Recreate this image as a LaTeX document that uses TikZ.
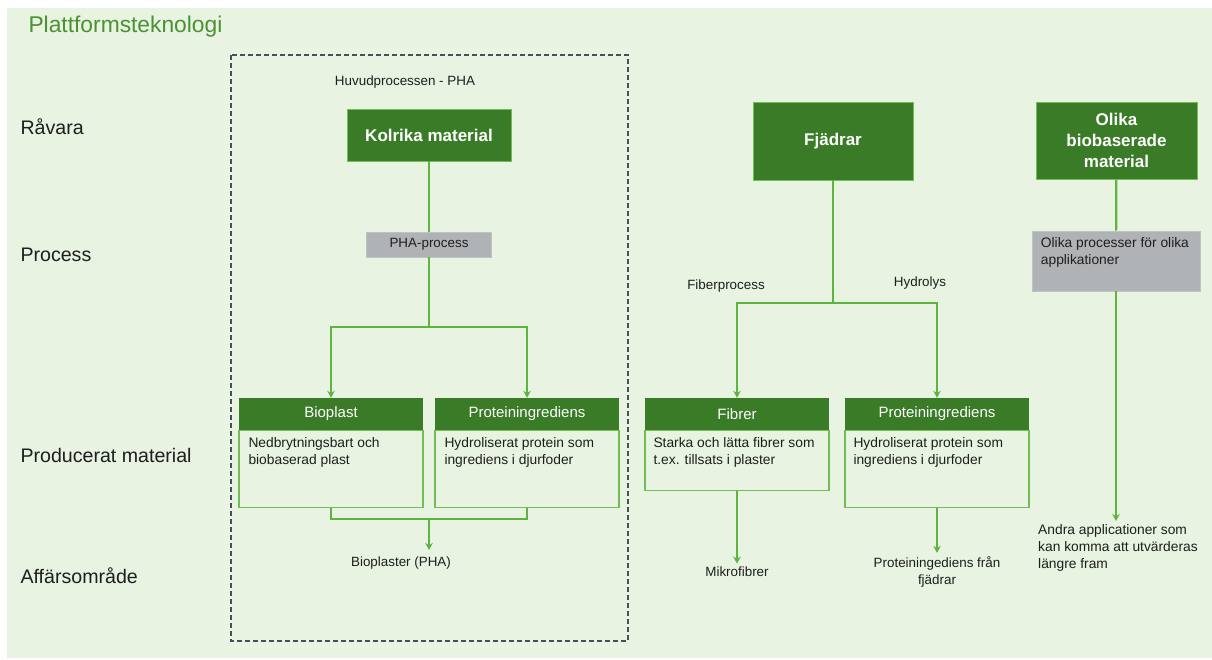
\documentclass[tikz,border=0pt]{standalone}
\usepackage{fontspec}
\setmainfont{Liberation Sans}
\usepackage{xcolor}
\usetikzlibrary{arrows.meta, positioning}

\definecolor{bggreen}{HTML}{E8F3E1}
\definecolor{darkgreen}{HTML}{3A7B27}
\definecolor{linegreen}{HTML}{5DB43F}
\definecolor{edgegreen}{HTML}{72BE55}
\definecolor{titlegreen}{HTML}{4A9232}
\definecolor{procgrey}{HTML}{B0B3B6}
\definecolor{framegrey}{HTML}{45515A}
\definecolor{textdark}{HTML}{1E1E1E}

\begin{document}
\begin{tikzpicture}[x=1pt, y=-1pt,
        rowlabel/.style={anchor=west, text=textdark, font=\fontsize{19.6}{22}\selectfont},
        rawbox/.style={rectangle, fill=darkgreen, draw=edgegreen, line width=0.6pt, text=white, align=center, font=\bfseries\fontsize{17}{21}\selectfont},
        greybox/.style={rectangle, fill=procgrey, draw=procgrey!80!white, line width=0.6pt},
        head/.style={rectangle, fill=darkgreen, text=white, minimum width=184pt, minimum height=32pt, inner sep=0pt, font=\fontsize{15}{17}\selectfont},
        body/.style={rectangle, draw=edgegreen, line width=1.4pt, minimum width=184pt, anchor=north, inner sep=0pt},
        bodytext/.style={anchor=north west, align=left, text=textdark, inner sep=3pt, font=\fontsize{13.8}{17}\selectfont},
        small/.style={text=textdark, align=center, font=\fontsize{13.4}{17.5}\selectfont},
        conn/.style={draw=linegreen, line width=2.2pt},
        arrow/.style={conn, -{Stealth[length=7pt, width=7.5pt]}}
    ]
    \useasboundingbox (0,0) rectangle (1212,659);
    \fill[bggreen] (7,8) rectangle (1212,658);

    % title and row labels
    \node[anchor=west, text=titlegreen, font=\fontsize{22.8}{26}\selectfont] (title) at (25,27) {Plattformsteknologi};
    \node[rowlabel] (rRaw) at (17,127) {Råvara};
    \node[rowlabel] (rProc) at (17,255) {Process};
    \node[rowlabel] (rProd) at (17,455) {Producerat material};
    \node[rowlabel] (rArea) at (17,576) {Affärsområde};

    % main process PHA
    \draw[framegrey, line width=1.2pt, dash pattern=on 5pt off 3pt] (231,55) rectangle (628,641);
    \node[small] (huvud) at (405,82) {Huvudprocessen - PHA};
    \node[rawbox, minimum width=164pt, minimum height=52pt] (kol) at (429,135) {Kolrika material};
    \node[greybox, minimum width=125pt, minimum height=25pt, small] (pha) at (429,244.5) {PHA-process};
    \coordinate (phaSplit) at (429,327);

    \node[body, minimum height=77pt] (bioB) at (331,430) {};
    \node[head] (bioH) at (331,414) {Bioplast};
    \node[bodytext] (bioT) at ([xshift=7pt, yshift=-4pt]bioB.north west) {Nedbrytningsbart och\\biobaserad plast};
    \node[body, minimum height=77pt] (proB) at (527,430) {};
    \node[head] (proH) at (527,414) {Proteiningrediens};
    \node[bodytext] (proT) at ([xshift=7pt, yshift=-4pt]proB.north west) {Hydroliserat protein som\\ingrediens i djurfoder};
    \coordinate (bioJoin) at (429,519);
    \coordinate (bioEnd) at (429,550);
    \node[small] (bioplaster) at (401,563) {Bioplaster (PHA)};

    \draw[conn] (kol) -- (pha);
    \draw[conn] (pha) -- (phaSplit);
    \draw[arrow] (phaSplit) -| (bioH);
    \draw[arrow] (phaSplit) -| (proH);
    \draw[conn] (bioB.south) |- (bioJoin) -| (proB.south);
    \draw[arrow] (bioJoin) -- (bioEnd);

    % feathers
    \node[rawbox, minimum width=160pt, minimum height=78pt] (fj) at (833,141) {Fjädrar};
    \coordinate (fjSplit) at (833,303);
    \node[small] (fiberproc) at (726,286) {Fiberprocess};
    \node[small] (hydrolys) at (920,283) {Hydrolys};

    \node[body, minimum height=60pt] (fibB) at (737,430) {};
    \node[head] (fibH) at (737,414) {Fibrer};
    \node[bodytext] (fibT) at ([xshift=6pt, yshift=-4pt]fibB.north west) {Starka och lätta fibrer som\\t.ex. tillsats i plaster};
    \node[body, minimum height=77pt] (prot2B) at (937,430) {};
    \node[head] (prot2H) at (937,414) {Proteiningrediens};
    \node[bodytext] (prot2T) at ([xshift=6pt, yshift=-4pt]prot2B.north west) {Hydroliserat protein som\\ingrediens i djurfoder};
    \node[small] (mikro) at (737,572) {Mikrofibrer};
    \node[small] (protfr) at (937,572) {Proteiningediens från\\fjädrar};

    \draw[conn] (fj) -- (fjSplit);
    \draw[arrow] (fjSplit) -| (fibH);
    \draw[arrow] (fjSplit) -| (prot2H);
    \draw[arrow] (fibB.south) -- (mikro);
    \draw[arrow] (prot2B.south) -- (protfr);

    % other biobased materials
    \node[rawbox, minimum width=161pt, minimum height=77pt] (olika) at (1116.5,140.5) {Olika\\biobaserade\\material};
    \node[greybox, minimum width=168pt, minimum height=60pt] (procs) at (1116,261) {};
    \node[bodytext] (procsT) at ([xshift=6pt, yshift=-4pt]procs.north west) {Olika processer för olika\\applikationer};
    \node[bodytext, anchor=north west] (andra) at (1035,521) {Andra applicationer som\\kan komma att utvärderas\\längre fram};

    \draw[conn] (olika) -- (procs);
    \draw[arrow] (procs) -- (procs |- andra.north);
\end{tikzpicture}
\end{document}
